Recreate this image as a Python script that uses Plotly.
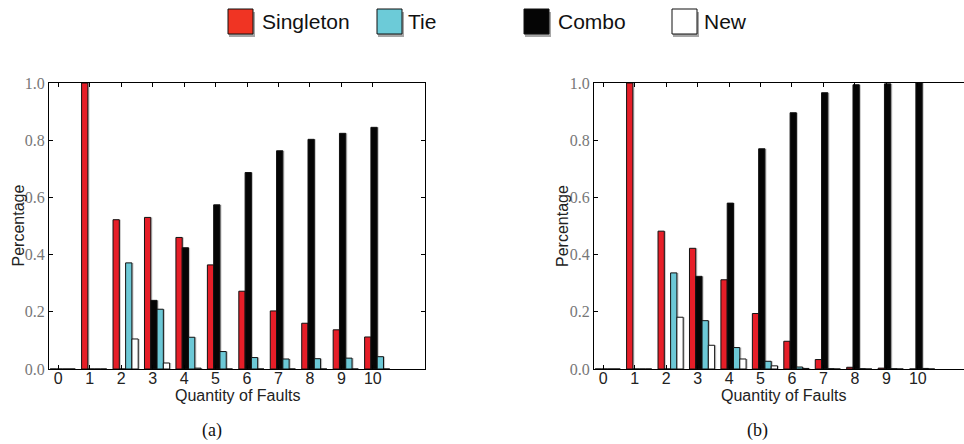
import plotly.graph_objects as go

W, H = 964, 444

faults = [0, 1, 2, 3, 4, 5, 6, 7, 8, 9, 10]
tick_labels = [str(v) for v in faults]
y_ticks = [0.0, 0.2, 0.4, 0.6, 0.8, 1.0]
y_tick_labels = ["0.0", "0.2", "0.4", "0.6", "0.8", "1.0"]

# Panel (a)
a_singleton = [0, 1.0, 0.522, 0.530, 0.460, 0.364, 0.272, 0.203, 0.160, 0.137, 0.112]
a_combo     = [0, 0, 0, 0.240, 0.424, 0.574, 0.687, 0.763, 0.803, 0.824, 0.845]
a_tie       = [0, 0, 0.371, 0.209, 0.111, 0.061, 0.040, 0.035, 0.036, 0.038, 0.043]
a_new       = [0, 0, 0.105, 0.021, 0.003, 0, 0, 0, 0, 0, 0]

# Panel (b)
b_singleton = [0, 1.0, 0.482, 0.422, 0.312, 0.194, 0.097, 0.033, 0.006, 0.003, 0]
b_combo     = [0, 0, 0, 0.324, 0.580, 0.770, 0.896, 0.966, 0.994, 0.997, 1.0]
b_tie       = [0, 0, 0.336, 0.169, 0.075, 0.027, 0.007, 0.001, 0.001, 0.001, 0.002]
b_new       = [0, 0, 0.181, 0.083, 0.035, 0.011, 0.002, 0, 0, 0, 0]

series_names = ["Singleton", "Tie", "Combo", "New"]
bar_colors = {"Singleton": "#E61E28", "Tie": "#6CC8D6", "Combo": "#050505", "New": "#FFFFFF"}
legend_colors = {"Singleton": "#F03423", "Tie": "#6CCBD8", "Combo": "#050505", "New": "#FFFFFF"}
bar_offsets = {"Singleton": -0.26, "Combo": -0.06, "Tie": 0.14, "New": 0.34}
BAR_W = 0.2

def px_x(p):
    return p / W

def px_y(p):
    return 1 - p / H

fig = go.Figure()

panels = [
    ("x", "y", {"Singleton": a_singleton, "Combo": a_combo, "Tie": a_tie, "New": a_new}),
    ("x2", "y2", {"Singleton": b_singleton, "Combo": b_combo, "Tie": b_tie, "New": b_new}),
]

draw_order = ["Singleton", "Combo", "Tie", "New"]
for xa, ya, data in panels:
    # shadows
    for name in draw_order:
        fig.add_trace(go.Bar(
            x=faults, y=data[name], xaxis=xa, yaxis=ya,
            width=BAR_W, offset=bar_offsets[name] + 0.05,
            marker=dict(color="rgba(0,0,0,0.22)", line=dict(width=0)),
            showlegend=False, hoverinfo="skip"))
    for name in draw_order:
        fig.add_trace(go.Bar(
            x=faults, y=data[name], xaxis=xa, yaxis=ya, name=name,
            width=BAR_W, offset=bar_offsets[name],
            marker=dict(color=bar_colors[name], line=dict(color="#111111", width=1)),
            showlegend=False))

plot_top, plot_bot = 83, 369
dom_y = [px_y(plot_bot), px_y(plot_top)]

xfont = dict(family="Liberation Sans, Arial, sans-serif", size=16, color="#222222")
yfont = dict(family="Liberation Serif, DejaVu Serif, serif", size=16, color="#777777")

common_x = dict(tickmode="array", tickvals=faults, ticktext=tick_labels,
                ticks="inside", ticklen=4, tickcolor="#000", showline=True,
                linecolor="#000", linewidth=1, showgrid=False, zeroline=False,
                tickfont=xfont, fixedrange=True, automargin=False,
                ticklabelstandoff=-5)
common_y = dict(range=[0, 1.0], tickmode="array", tickvals=y_ticks, ticktext=y_tick_labels,
                ticks="inside", ticklen=4, tickcolor="#000", showline=True,
                linecolor="#000", linewidth=1, showgrid=False, zeroline=False,
                tickfont=yfont, fixedrange=True, automargin=False)

fig.update_layout(
    width=W, height=H,
    margin=dict(l=0, r=0, t=0, b=0, pad=0, autoexpand=False),
    paper_bgcolor="white", plot_bgcolor="white",
    barmode="overlay",
    showlegend=False,
    xaxis=dict(domain=[px_x(49), px_x(425)], range=[-0.296, 11.66], anchor="y",
               mirror="ticks", **common_x),
    yaxis=dict(domain=dom_y, anchor="x", mirror="ticks", **common_y),
    xaxis2=dict(domain=[px_x(594), 1.0], range=[-0.296, 11.47], anchor="y2",
                mirror="ticks", **common_x),
    yaxis2=dict(domain=dom_y, anchor="x2", mirror=False, **common_y),
)

shapes = []
annotations = []

# Legend
leg_boxes = {"Singleton": (228, 260), "Tie": (377, 406), "Combo": (524, 556), "New": (672, 702)}
for name in series_names:
    bx, tx = leg_boxes[name]
    # shadow
    shapes.append(dict(type="rect", xref="paper", yref="paper",
                       x0=px_x(bx + 1), x1=px_x(bx + 27), y0=px_y(37), y1=px_y(12),
                       fillcolor="rgba(0,0,0,0.35)", line=dict(width=0), layer="above"))
    shapes.append(dict(type="rect", xref="paper", yref="paper",
                       x0=px_x(bx), x1=px_x(bx + 25), y0=px_y(34), y1=px_y(9),
                       fillcolor=legend_colors[name], line=dict(color="#111", width=1),
                       layer="above"))
    annotations.append(dict(text=name, xref="paper", yref="paper",
                            x=px_x(tx), y=px_y(21.5), xanchor="left", yanchor="middle",
                            showarrow=False,
                            font=dict(family="Liberation Sans, Arial, sans-serif",
                                      size=21, color="#111")))

# Axis titles and captions
for cx, ylab_x, cap_x, cap in [(237, 17.5, 212, "(a)"), (783, 562, 757, "(b)")]:
    annotations.append(dict(text="Quantity of Faults", xref="paper", yref="paper",
                            x=px_x(cx), y=px_y(395), xanchor="center", yanchor="middle",
                            showarrow=False,
                            font=dict(family="Liberation Sans, Arial, sans-serif",
                                      size=16, color="#222")))
    annotations.append(dict(text="Percentage", xref="paper", yref="paper",
                            x=px_x(ylab_x), y=px_y(226), xanchor="center", yanchor="middle",
                            textangle=-90, showarrow=False,
                            font=dict(family="Liberation Sans, Arial, sans-serif",
                                      size=16, color="#222")))
    annotations.append(dict(text=cap, xref="paper", yref="paper",
                            x=px_x(cap_x), y=px_y(430), xanchor="center", yanchor="middle",
                            showarrow=False,
                            font=dict(family="Liberation Serif, Times New Roman, serif",
                                      size=18, color="#111")))

fig.update_layout(shapes=shapes, annotations=annotations)

fig.write_html(
    "out.html",
    config={"displayModeBar": False, "responsive": False},
    post_script="document.body.style.margin='0';document.body.style.padding='0';"
                "document.documentElement.style.overflow='hidden';"
                "document.body.style.overflow='hidden';",
)
